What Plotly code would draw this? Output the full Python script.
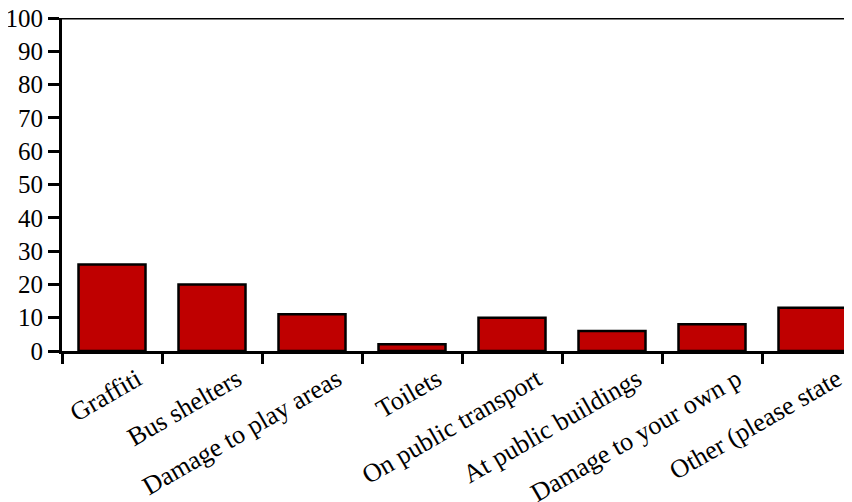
import plotly.graph_objects as go

categories = ["Graffiti", "Bus shelters", "Damage to play areas", "Toilets",
              "On public transport", "At public buildings", "Damage to your own p",
              "Other (please state"]
values = [26, 20, 11, 2, 10, 6, 8, 13]
y_ticks = list(range(0, 101, 10))

fig = go.Figure(go.Bar(
    x=categories, y=values,
    marker=dict(color="#BF0000", line=dict(color="black", width=2.5)),
))
fig.update_layout(
    width=844, height=494,
    margin=dict(l=54, r=0, t=10, b=151),
    plot_bgcolor="white", paper_bgcolor="white",
    bargap=0.33, showlegend=False,
    font=dict(family="Liberation Serif", size=26, color="black"),
)
fig.update_xaxes(
    range=[-0.5, 7.4], showline=True, linecolor="black", linewidth=3,
    mirror=False, ticks="outside", ticklen=10, tickwidth=3, tickcolor="black",
    tickson="boundaries", tickangle=-30, tickfont=dict(size=26),
    ticklabelshift=25, showgrid=False, zeroline=False, automargin=False,
    ticklabeloverflow="allow",
)
fig.update_yaxes(
    range=[0, 100], tickvals=y_ticks, showline=True, linecolor="black", linewidth=3,
    ticks="outside", ticklen=11, tickwidth=3, tickcolor="black",
    showgrid=False, zeroline=False, tickfont=dict(size=25), automargin=False,
    ticklabeloverflow="allow",
)
fig.add_shape(type="line", xref="paper", yref="y", x0=0, x1=1, y0=100, y1=100,
              line=dict(color="black", width=3))
fig.write_html("out.html")
